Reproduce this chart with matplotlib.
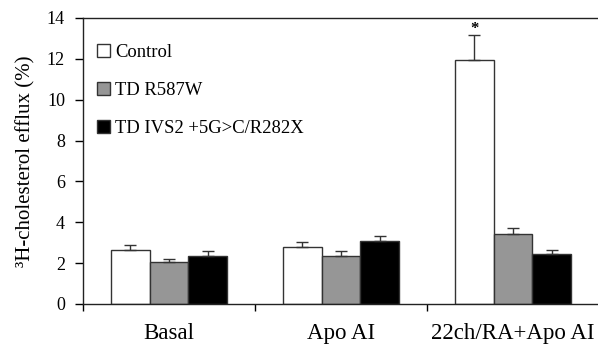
import matplotlib
matplotlib.use("Agg")
import matplotlib.pyplot as plt
from matplotlib.patches import Patch
import numpy as np

categories = ["Basal", "Apo AI", "22ch/RA+Apo AI"]
series_names = ["Control", "TD R587W", "TD IVS2 +5G>C/R282X"]
control = [2.63, 2.77, 11.94]
control_err = [0.26, 0.25, 1.23]
r587w = [2.06, 2.33, 3.44]
r587w_err = [0.13, 0.26, 0.29]
ivs2 = [2.33, 3.07, 2.43]
ivs2_err = [0.25, 0.24, 0.21]
yticks = [0, 2, 4, 6, 8, 10, 12, 14]

plt.rcParams['font.family'] = ['Liberation Serif', 'DejaVu Serif']

fig = plt.figure(figsize=(5.98, 3.45), dpi=100)
ax = fig.add_axes([83/598, 1 - 304/345, 516/598, (304-18)/345])

x = np.arange(len(categories))
w = 0.224
colors = ["white", "#969696", "black"]
data = [(control, control_err), (r587w, r587w_err), (ivs2, ivs2_err)]
for i, ((vals, errs), c) in enumerate(zip(data, colors)):
    ax.bar(x + (i - 1) * w, vals, w, color=c, edgecolor="#333333", linewidth=1.0,
           yerr=[np.zeros(len(errs)), errs],
           error_kw=dict(ecolor="#333333", elinewidth=1.0, capsize=4, capthick=1.0),
           zorder=2)

ax.text(x[2] - w, control[2] + control_err[2] - 0.08, "*", ha="center", va="bottom",
        fontsize=12, fontweight="bold")

ax.set_xlim(-0.5, 2.5)
ax.set_ylim(0, 14)
ax.set_yticks(yticks)
ax.set_yticklabels([str(t) for t in yticks], fontsize=13)
ax.set_xticks(x)
ax.set_xticklabels(categories, fontsize=16.5)
ax.tick_params(axis='x', length=0, pad=14)
ax.set_xticks([-0.5, 0.5, 1.5], minor=True)
ax.tick_params(axis='x', which='minor', length=5, direction='out', width=1)
ax.tick_params(axis='y', length=6, direction='out', width=1, pad=7)
ax.spines['right'].set_visible(False)
for s in ['left', 'bottom', 'top']:
    ax.spines[s].set_linewidth(1.0)
    ax.spines[s].set_color("#222222")

ax.set_ylabel("³H-cholesterol efflux (%)", fontsize=15, labelpad=8)

handles = [Patch(facecolor=c, edgecolor="#333333", linewidth=1.0) for c in colors]
leg = ax.legend(handles, series_names, loc="upper left", frameon=False, fontsize=13.4,
                handlelength=0.7, handleheight=0.7, handletextpad=0.3, labelspacing=1.12,
                bbox_to_anchor=(0.012, 0.935), borderaxespad=0)

fig.savefig("out.png", dpi=100)
